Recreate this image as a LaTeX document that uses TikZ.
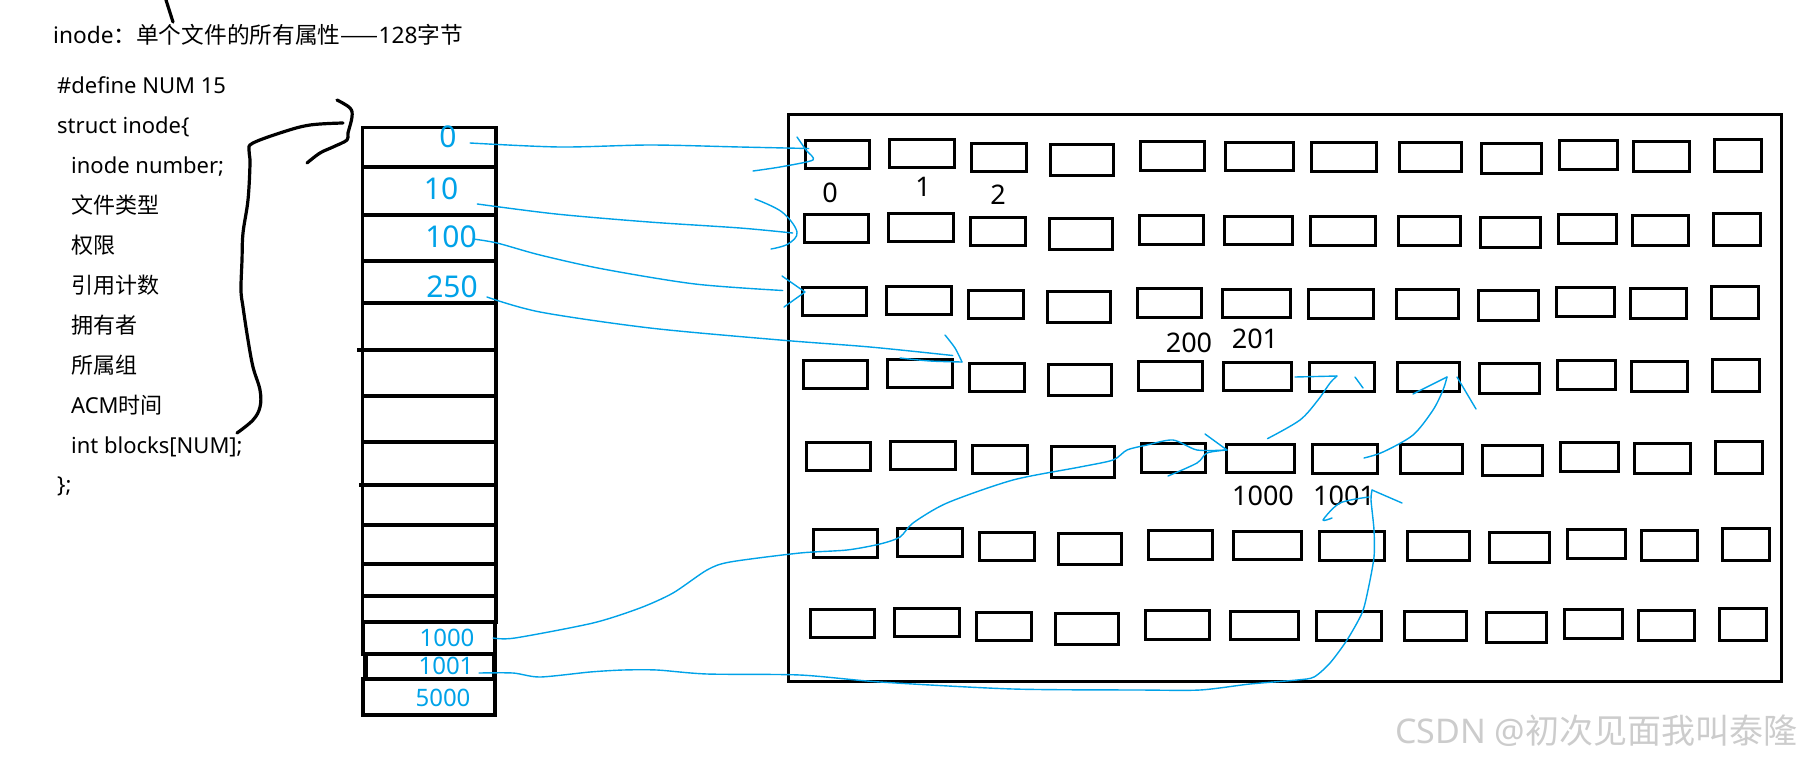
\documentclass[tikz,border=0pt]{standalone}
\usepackage{fontspec}
\setmainfont{Noto Sans}
\newfontfamily\cjk{Noto Sans CJK SC}
\usetikzlibrary{calc}
\definecolor{penblue}{RGB}{0,162,232}
\begin{document}
\begin{tikzpicture}[x=1pt,y=-1pt,
  blk/.style={draw=black, line width=3.3pt, inner sep=0pt, outer sep=0pt, anchor=north west},
  cell/.style={draw=black, line width=3.3pt, inner sep=0pt, outer sep=0pt, anchor=north west, minimum width=133.5pt},
  cellb/.style={draw=black, line width=4.5pt, inner sep=0pt, outer sep=0pt, anchor=north west},
  txt/.style={anchor=base west, inner sep=0pt, font=\fontsize{22}{26}\selectfont},
  num/.style={anchor=base, inner sep=0pt, font=\fontsize{27}{30}\selectfont},
  hand/.style={text=penblue, inner sep=0pt, font=\fontsize{30}{32}\selectfont},
  handsmall/.style={text=penblue, inner sep=0pt, font=\fontsize{24}{26}\selectfont},
  conn/.style={draw=penblue, line width=1.4pt, line cap=round, line join=round},
  ink/.style={draw=black, line width=3.2pt, line cap=round, line join=round},
  wmark/.style={anchor=base west, inner sep=0pt, text=black!20, font=\fontsize{34}{36}\selectfont}]
\useasboundingbox (0,0) rectangle (1817,766);

% ---- left text ----
\node[txt, font=\fontsize{22.7}{26}\selectfont] (title) at (53,43) {inode{\cjk ：单个文件的所有属性——}128{\cjk 字节}};
\node[txt] (def) at (57,93) {\#define NUM 15};
\node[txt] (st) at (57,133) {struct inode\{};
\node[txt] (f1) at (71,173) {inode number;};
\node[txt] (f2) at (71,213) {\cjk 文件类型};
\node[txt] (f3) at (71,253) {\cjk 权限};
\node[txt] (f4) at (71,293) {\cjk 引用计数};
\node[txt] (f5) at (71,333) {\cjk 拥有者};
\node[txt] (f6) at (71,373) {\cjk 所属组};
\node[txt] (f7) at (71,413) {ACM{\cjk 时间}};
\node[txt] (f8) at (71,453) {int blocks[NUM];};
\node[txt] (fend) at (57,492) {\};};

% ---- black freehand strokes ----
\draw[ink] (166,0) -- (173,22);
\draw[ink] plot[smooth, tension=0.6] coordinates {(337,100) (350,108) (352,117) (348,133) (347,140) (333,147) (320,153) (307,163)};
\draw[ink] plot[smooth, tension=0.6] coordinates {(343,123) (310,125) (283,132) (253,143) (249,150) (250,163) (248,200) (243,233) (242,260) (241,290) (243,307) (248,340) (253,367) (260,390) (260,407) (253,420) (237,433)};

% ---- inode table ----
\foreach \i/\t/\b in {1/127.5/167, 2/167/215, 3/215/261, 4/261/303, 5/303/350, 6/350/396, 7/396/442, 8/442/485, 9/485/525, 10/525/564, 11/564/596, 12/596/622}{
  \node[cell, minimum height={(\b-\t)*1pt}] (t\i) at (362.5,\t) {};
}
\node[cellb, minimum width=132pt, minimum height=32pt] (t13) at (363,622) {};
\node[cellb, minimum width=129pt, minimum height=25pt] (t14) at (365.5,654) {};
\node[cellb, minimum width=132pt, minimum height=36pt] (t15) at (363,679) {};
\draw[black, line width=3.3pt] (357,350) -- (t6.north west);
\draw[black, line width=3.3pt] (359,485) -- (t9.north west);

% handwritten numbers in the table
\node[hand] (h1) at (448,137) {0};
\node[hand] (h2) at (441,189) {10};
\node[hand] (h3) at (451,237) {100};
\node[hand] (h4) at (452,287) {250};
\node[handsmall] (h5) at (447,638) {1000};
\node[handsmall] (h6) at (446,666) {1001};
\node[handsmall] (h7) at (443,698) {5000};

% ---- disk area ----
\node[draw=black, line width=3.6pt, inner sep=0pt, outer sep=0pt, anchor=north west,
      minimum width=993pt, minimum height=567pt] (disk) at (788.5,114.5) {};

\foreach \r/\ox/\oy in {1/804/139, 2/803/213, 3/801/286, 4/802/359, 5/805/441, 6/812/528, 7/809/608}{
  \foreach \c/\dx/\w/\dy/\h in {1/0/67/0/31, 2/84/68/-1/31, 3/166/58/3/31, 4/245/66/4/34, 5/335/67/1/32, 6/420/71/2/31, 7/506/68/2/32, 8/594/65/2/32, 9/676/63/3/33, 10/754/61/0/32, 11/828/59/1/33, 12/909/50/-1/35}{
    \node[blk, minimum width={(\w-3.3)*1pt}, minimum height={(\h-3.3)*1pt}] (b\r-\c) at ({\ox+\dx+1.65},{\oy+\dy+1.65}) {};
  }
}

% block numbers
\node[num] (n0) at (830,202) {0};
\node[num] (n1) at (923,196) {1};
\node[num] (n2) at (998,204) {2};
\node[num] (n200) at (1189,352) {200};
\node[num] (n201) at (1255,348) {201};
\node[num] (n1000) at (1263,505) {1000};
\node[num] (n1001) at (1344,505) {1001};

% ---- blue connectors ----
% 0 -> block 0
\draw[conn] plot[smooth, tension=0.5] coordinates {($(h1.east)+(13.4,6)$) (560,147) (650,145) (740,147) ($(b1-1.west)+(3,-6)$)};
\draw[conn] plot[smooth, tension=0.4] coordinates {(797,137) (806,150) (813,160) (780,167) (753,171)};
% 10 -> row 2
\draw[conn] plot[smooth, tension=0.5] coordinates {($(h2.east)+(19,15)$) (556,214) (649,222) (740,228) ($(b2-1.west)+(-12,4.5)$)};
\draw[conn] plot[smooth, tension=0.6] coordinates {(755,199) (782,212) (797,232) (788,244) (771,249)};
% 100 -> row 3
\draw[conn] plot[smooth, tension=0.5] coordinates {($(h3.east)+(-4,2)$) (497,243) (540,255) (603,269) (695,284) ($(b3-1.west)+(-20,-11)$)};
\draw[conn] (782,276) -- (805,292) -- (784,307);
% 250 -> row 4
\draw[conn] plot[smooth, tension=0.5] coordinates {($(h4.east)+(9,10)$) (540,312) (650,328) (780,340) (870,347) ($(b4-3.west)+(-17,-22)$)};
\draw[conn] plot[smooth, tension=0.5] coordinates {(945,335) (955,348) (962,362)};
\draw[conn] plot[smooth, tension=0.5] coordinates {(900,358) (930,361) (962,362)};
% 1000 -> block 1000
\draw[conn] plot[smooth, tension=0.45] coordinates {($(h5.east)+(18.5,0)$) (515,638) (593,623) (640,608) (673,593) (707,570) (730,562) (800,553) (847,550) (880,544) (900,537) (913,523) (947,503) (1013,480) (1080,467) (1113,460) (1127,450) (1147,445) (1173,440) (1197,450) ($(b5-6.west)+(0.35,-8.5)$)};
\draw[conn] (1205,434) -- (1227,450);
\draw[conn] plot[smooth, tension=0.5] coordinates {(1168,476) (1197,463) (1207,453) (1227,450)};
% block 1000 -> row 4 col 7
\draw[conn] plot[smooth, tension=0.5] coordinates {($(b5-6.north)+(7,-6)$) (1300,420) (1318,400) (1330,383) ($(b4-7.center)+(-5,-1)$)};
\draw[conn] (1295,377) -- (1337,376);
\draw[conn] (1355,377) -- (1363,388);
% block 1001 -> row 4 col 8
\draw[conn] plot[smooth, tension=0.5] coordinates {($(b5-7.center)+(19,-1)$) (1383,452) (1413,435) (1433,410) (1443,390) ($(b4-8.center)+(18.5,0)$)};
\draw[conn] plot[smooth, tension=0.5] coordinates {(1413,394) (1437,382) (1447,377)};
\draw[conn] (1457,377) -- (1476,409);
% 1001 -> label 1001
\draw[conn] plot[smooth, tension=0.45] coordinates {($(h6.east)+(5.5,7)$) (513,673) (540,677) (590,672) (623,670) (657,670) (707,674) (800,675) (880,682) (1013,689) (1140,690) (1200,690) (1250,684) (1297,680) (1314,677) (1330,663) (1347,640) (1362,613) (1368,590) (1374,557) (1374,530) (1371,500) ($(n1001.east)+(-3,-5.4)$)};
\draw[conn] (1372,490) -- (1402,503);
\draw[conn] plot[smooth, tension=0.5] coordinates {(1369,497) (1340,503) (1323,520) (1332,518)};

% ---- watermark ----
\node[wmark] (wm) at (1395,743) {CSDN @{\cjk 初次见面我叫泰隆}};
\end{tikzpicture}
\end{document}
